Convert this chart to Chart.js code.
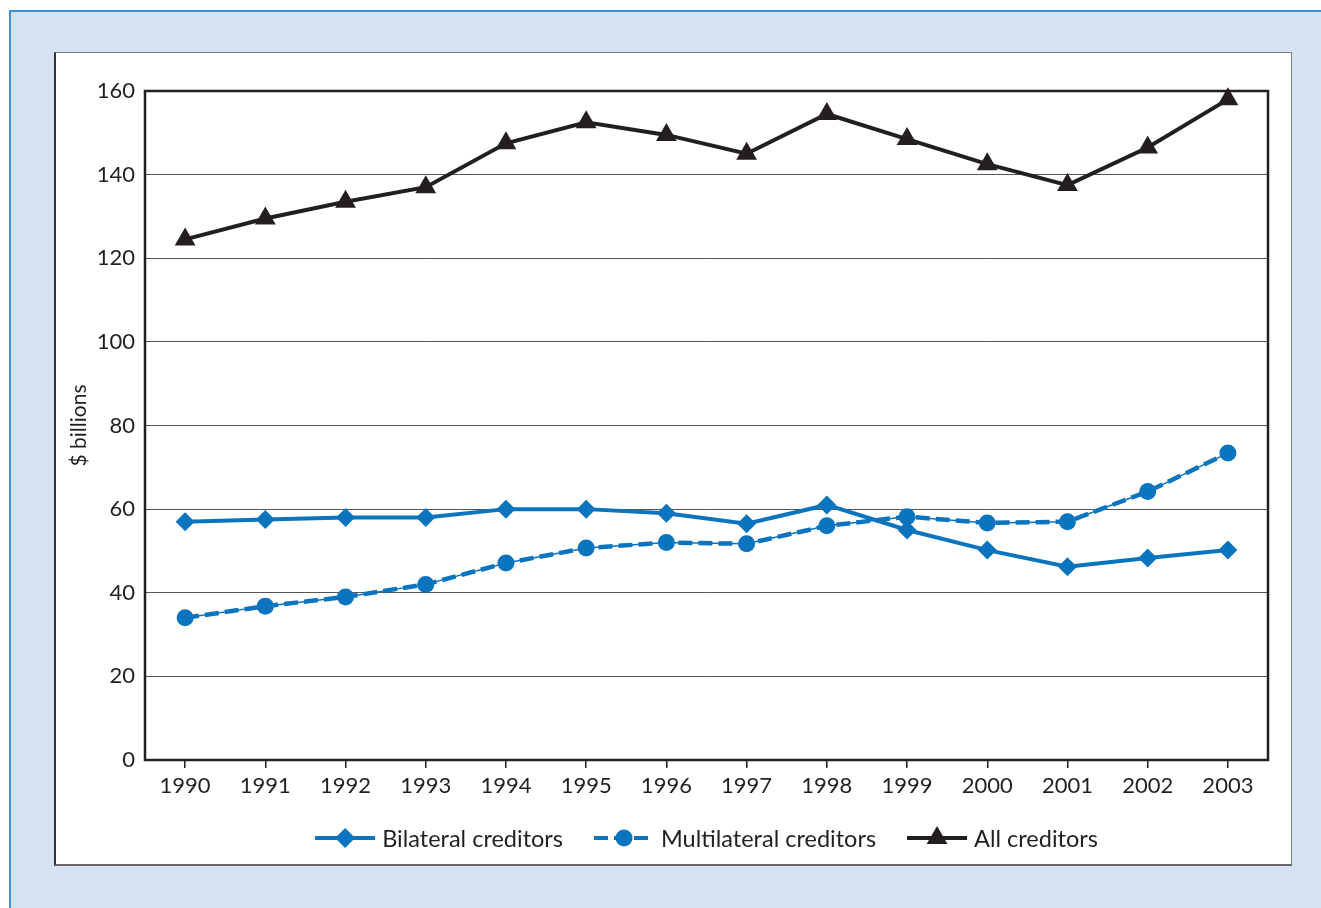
<!DOCTYPE html>
<html>
<head>
<meta charset="utf-8">
<title>Debt by creditor type, 1990–2003</title>
<script src="https://cdn.jsdelivr.net/npm/chart.js@4/dist/chart.umd.min.js"></script>
<style>
  html, body { margin: 0; padding: 0; width: 1321px; height: 908px; overflow: hidden; background: #ffffff; }
  #backdrop { position: absolute; left: 9px; top: 10px; right: 0; bottom: 0; background: #d5e2f1;
              border-left: 2px solid #3d8fd6; border-top: 2px solid #3d8fd6; }
  #panel { position: absolute; left: 54px; top: 52px; width: 1238px; height: 814px; box-sizing: border-box;
           background: #ffffff; border: 1px solid #7a7a7a; border-left: 2px solid #333333; border-bottom: 2px solid #666666; }
  #chart { position: absolute; left: 55px; top: 53px; }
</style>
</head>
<body>
<div id="backdrop"></div>
<div id="panel"></div>
<canvas id="chart" width="1236" height="812"></canvas>
<script>
// Years on the horizontal axis
const years = ['1990', '1991', '1992', '1993', '1994', '1995', '1996', '1997', '1998', '1999', '2000', '2001', '2002', '2003'];

// $ billions
const bilateral    = [57, 57.5, 58, 58, 60, 60, 59, 56.5, 61, 55, 50.2, 46.2, 48.3, 50.2];
const multilateral = [34, 36.8, 39, 42, 47.1, 50.7, 52, 51.7, 56, 58.2, 56.7, 57, 64.2, 73.4];
const allCreditors = [124.5, 129.5, 133.5, 137, 147.5, 152.5, 149.5, 145, 154.5, 148.5, 142.5, 137.5, 146.5, 158];

const yTicks = [0, 20, 40, 60, 80, 100, 120, 140, 160];

const seriesNames = ['Bilateral creditors', 'Multilateral creditors', 'All creditors'];

const BLUE = '#0a74bf';
const INK = '#231f20';
const FONT = 'Lato, "Open Sans", sans-serif';

// Plot frame drawn around the chart area
const framePlugin = {
  id: 'frame',
  beforeDatasetsDraw(chart) {
    const { ctx, chartArea: a } = chart;
    ctx.save();
    ctx.strokeStyle = INK;
    ctx.lineWidth = 2.5;
    ctx.strokeRect(a.left, a.top, a.right - a.left, a.bottom - a.top);
    ctx.restore();
  }
};

function drawMarker(ctx, style, x, y, color) {
  ctx.fillStyle = color;
  ctx.beginPath();
  if (style === 'diamond') {
    const r = 10;
    ctx.moveTo(x, y - r); ctx.lineTo(x + r, y); ctx.lineTo(x, y + r); ctx.lineTo(x - r, y);
  } else if (style === 'circle') {
    ctx.arc(x, y, 8.5, 0, Math.PI * 2);
  } else {
    const r = 12;
    ctx.moveTo(x, y - r);
    ctx.lineTo(x + r * Math.sin(2 * Math.PI / 3), y + r / 2);
    ctx.lineTo(x - r * Math.sin(2 * Math.PI / 3), y + r / 2);
  }
  ctx.closePath();
  ctx.fill();
}

// Legend below the axis: line sample with marker, then the series name
const legendPlugin = {
  id: 'lineLegend',
  afterDraw(chart) {
    const { ctx, chartArea: a } = chart;
    const items = chart.data.datasets.filter(d => d.legendEntry).map(d => ({
      text: d.label, color: d.borderColor, dash: d.legendDash || [], marker: d.legendMarker
    }));
    const lineLen = 60, textGap = 7, itemGap = 31;
    ctx.save();
    ctx.font = '23.5px ' + FONT;
    const widths = items.map(it => lineLen + textGap + ctx.measureText(it.text).width);
    const total = widths.reduce((s, w) => s + w, 0) + itemGap * (items.length - 1);
    let x = (a.left + a.right) / 2 - total / 2;
    const y = 785;
    items.forEach((it, i) => {
      ctx.strokeStyle = it.color;
      ctx.lineWidth = 4;
      ctx.setLineDash(it.dash);
      ctx.beginPath();
      ctx.moveTo(x, y);
      ctx.lineTo(x + lineLen, y);
      ctx.stroke();
      ctx.setLineDash([]);
      drawMarker(ctx, it.marker, x + lineLen / 2, y, it.color);
      ctx.fillStyle = INK;
      ctx.textAlign = 'left';
      ctx.textBaseline = 'middle';
      ctx.fillText(it.text, x + lineLen + textGap, y + 1);
      x += widths[i] + itemGap;
    });
    ctx.restore();
  }
};

new Chart(document.getElementById('chart'), {
  type: 'line',
  data: {
    labels: years,
    datasets: [
      {
        label: seriesNames[0], data: bilateral, legendEntry: true, legendMarker: 'diamond',
        borderColor: BLUE, backgroundColor: BLUE, borderWidth: 4,
        pointStyle: 'rectRot', pointRadius: 9.5, pointBorderWidth: 0, pointBackgroundColor: BLUE,
        clip: false
      },
      {
        label: seriesNames[1], data: multilateral, legendEntry: true, legendMarker: 'circle',
        legendDash: [14, 6],
        borderColor: BLUE, backgroundColor: BLUE, borderWidth: 4.5, borderDash: [14, 6],
        pointStyle: 'circle', pointRadius: 8.5, pointBorderWidth: 0, pointBackgroundColor: BLUE,
        clip: false
      },
      {
        // thin continuous stroke running under the dashes
        label: seriesNames[1] + ' (guide)', data: multilateral,
        borderColor: BLUE, borderWidth: 1.5, pointRadius: 0, clip: false
      },
      {
        label: seriesNames[2], data: allCreditors, legendEntry: true, legendMarker: 'triangle',
        borderColor: INK, backgroundColor: INK, borderWidth: 4,
        pointStyle: 'triangle', pointRadius: 12, pointBorderWidth: 0, pointBackgroundColor: INK,
        clip: false
      }
    ]
  },
  options: {
    responsive: false,
    animation: false,
    layout: { padding: { top: 38, right: 23, bottom: 60, left: 0 } },
    plugins: { legend: { display: false }, tooltip: { enabled: false } },
    elements: { line: { tension: 0 } },
    scales: {
      x: {
        offset: true,
        grid: { drawOnChartArea: false, drawTicks: true, tickLength: 8, color: INK, lineWidth: 1.5 },
        border: { display: false },
        ticks: { padding: 5, color: INK, font: { family: FONT, size: 22 }, maxRotation: 0, autoSkip: false },
        afterFit(scale) { scale.height = 45; }
      },
      y: {
        min: yTicks[0], max: yTicks[yTicks.length - 1],
        afterBuildTicks(scale) { scale.ticks = yTicks.map(v => ({ value: v })); },
        grid: { drawTicks: false, color: '#555555', lineWidth: 1 },
        border: { display: false },
        ticks: { padding: 10, color: INK, font: { family: FONT, size: 22 } },
        title: { display: true, text: '$ billions', color: INK, font: { family: FONT, size: 21 }, padding: { top: 12, bottom: 0 } },
        afterFit(scale) { scale.width = 90; }
      }
    }
  },
  plugins: [framePlugin, legendPlugin]
});
</script>
</body>
</html>
